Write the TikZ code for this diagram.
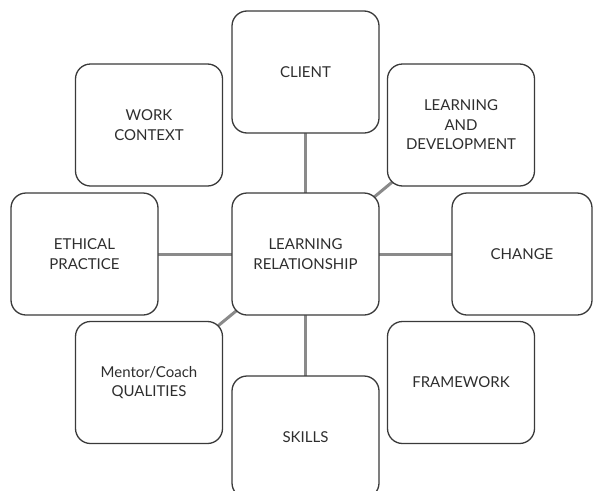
\documentclass[tikz,border=0pt]{standalone}
\usepackage{fontspec}
\setsansfont{Lato}
\usetikzlibrary{backgrounds}

\definecolor{boxgray}{HTML}{3A3A3A}
\definecolor{linkgray}{HTML}{8A8A8A}
\definecolor{textgray}{HTML}{2E2E2E}

\def\myboxwidth{1.3pt}
\def\mylinkwidth{3pt}

\tikzset{
	box/.style = {draw = boxgray, fill = white, line width = \myboxwidth, rounded corners = 15pt,
		minimum width = 147pt, minimum height = 122pt, inner sep = 0pt, align = center, text = textgray},
	link/.style = {draw = linkgray, line width = \mylinkwidth}
}

\begin{document}
\begin{tikzpicture}[font = \sffamily\fontsize{15}{19.5}\selectfont, x = 1pt, y = -1pt]
		\useasboundingbox (0,0) rectangle (593,490);
		%--------------------

		\node[box] (client) at (305.5, 72) {CLIENT};
		\node[box] (work) at (149, 125) {WORK\\CONTEXT};
		\node[box] (learndev) at (461, 125) {LEARNING\\AND\\DEVELOPMENT};

		\node[box] (ethical) at (84.5, 254) {ETHICAL\\PRACTICE};
		\node[box] (relation) at (305.5, 254) {LEARNING\\RELATIONSHIP};
		\node[box, minimum width = 140pt] (change) at (522, 254) {CHANGE};

		\node[box] (qualities) at (149, 382.5) {Mentor/Coach\\QUALITIES};
		\node[box] (framework) at (461, 382.5) {FRAMEWORK};
		\node[box] (skills) at (305.5, 437) {SKILLS};

		%--------------------
		\begin{scope}[on background layer]
			\draw[link] (relation.center) -- (client.center);
			\draw[link] (relation.center) -- (learndev.center);
			\draw[link] (relation.center) -- (ethical.center);
			\draw[link] (relation.center) -- (change.center);
			\draw[link] (relation.center) -- (qualities.center);
			\draw[link] (relation.center) -- (skills.center);
		\end{scope}
\end{tikzpicture}
\end{document}
